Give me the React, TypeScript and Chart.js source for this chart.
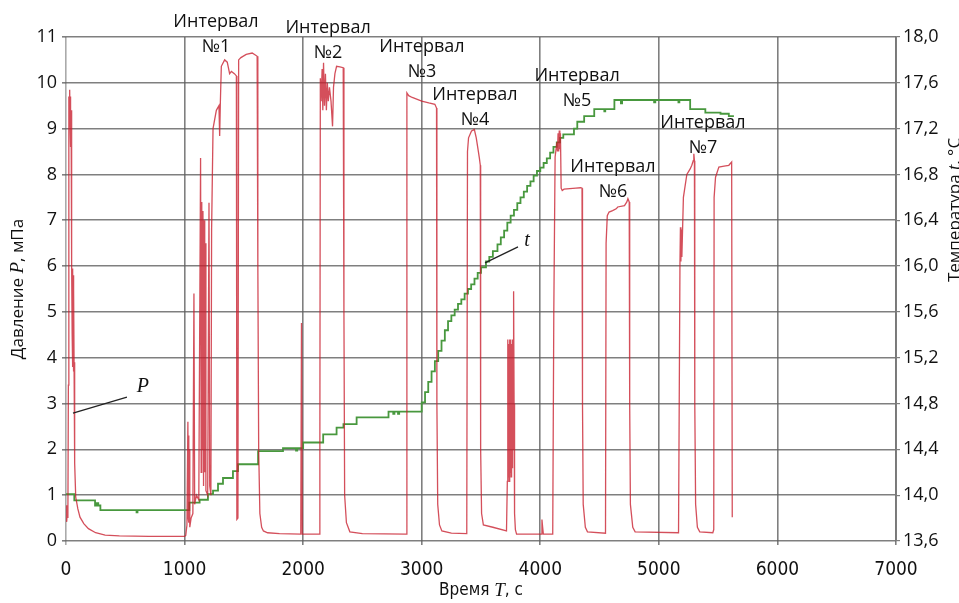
import React, { useEffect, useRef } from "react";
import { Chart, registerables } from "chart.js";

Chart.register(...registerables);

// ---- Pressure P (MPa) vs time T (s) ----
const P_TIME = [
  0, 4, 8, 12, 16, 20, 24, 28, 31, 34, 37, 40, 43, 46, 49, 52, 54, 56, 58, 60, 62, 64, 66, 68, 71, 75, 82, 100, 118, 150, 189, 250, 330, 450, 700, 1000,
  1010, 1020, 1028, 1031, 1034, 1037, 1040, 1044, 1055, 1070, 1079, 1085, 1100, 1120, 1135, 1140, 1145, 1150, 1155, 1160, 1165, 1170, 1175, 1180, 1195, 1206, 1212, 1222,
  1228, 1240, 1268, 1290, 1296, 1302, 1310, 1338, 1360, 1380, 1395, 1420, 1437, 1441, 1450, 1456, 1475, 1520, 1570, 1600, 1612, 1618, 1625, 1635, 1650, 1665, 1700, 1800,
  1980, 1986, 1992,
  2135, 2141, 2145, 2152, 2160, 2166, 2172, 2180, 2188, 2196, 2204, 2212, 2222, 2235, 2248, 2256, 2268, 2282, 2310, 2338, 2344, 2350, 2365, 2394, 2500,
  2868, 2875, 2890, 2920, 3000, 3060, 3111, 3125, 3128, 3135, 3150, 3170, 3250,
  3380, 3386, 3395, 3420, 3444, 3460, 3478, 3486, 3494, 3497, 3505, 3520, 3600,
  3715, 3722, 3726, 3730, 3734, 3738, 3742, 3746, 3750, 3754, 3758, 3762, 3766, 3770, 3775, 3779, 3783, 3790, 3800,
  4008, 4014, 4020, 4026,
  4105, 4114, 4125, 4140, 4145, 4150, 4155, 4160, 4165, 4170, 4176, 4185, 4200, 4300, 4341, 4352, 4356, 4362, 4380, 4398,
  4550, 4555, 4565, 4580, 4610, 4640, 4653, 4710, 4730, 4739, 4750, 4754, 4760, 4780, 4800,
  5166, 5178, 5182, 5186, 5190, 5194, 5207, 5236, 5264, 5278, 5290, 5295, 5300, 5303, 5310, 5325, 5345,
  5455, 5463, 5466, 5478, 5506, 5550, 5590, 5614, 5619,
];
const P_VALUES = [
  0.5, 0.78, 0.42, 0.72, 0.5, 3.4, 9.7, 9.3, 9.85, 9.2, 9.7, 8.6, 9.4, 7.9, 6.05, 4.5, 5.9, 3.8, 5.95, 4.2, 5.8, 3.7, 5.5, 3.9, 3.0, 1.7, 0.96, 0.7, 0.52, 0.38, 0.27, 0.18, 0.13, 0.11, 0.1, 0.1,
  0.12, 0.35, 2.6, 0.5, 2.3, 0.4, 2.0, 0.3, 0.5, 0.6, 5.4, 0.8, 1.0, 0.9, 8.36, 1.5, 7.4, 2.0, 7.2, 1.2, 7.0, 1.5, 6.5, 1.1, 1.0, 7.38, 1.2, 1.0,
  6.8, 9.0, 9.4, 9.5, 8.84, 9.6, 10.36, 10.5, 10.45, 10.2, 10.25, 10.2, 10.15, 0.47, 0.5, 10.5, 10.55, 10.62, 10.65, 10.6, 10.58, 6.0, 2.0, 0.6, 0.3, 0.22, 0.18, 0.16,
  0.15, 4.76, 0.15,
  0.15, 2.0, 10.1, 9.6, 10.3, 9.4, 10.44, 9.5, 10.2, 9.4, 10.0, 9.6, 9.9, 9.6, 9.05, 9.9, 10.2, 10.36, 10.35, 10.33, 5.0, 1.0, 0.4, 0.2, 0.16,
  0.15, 9.78, 9.72, 9.68, 9.6, 9.56, 9.53, 9.45, 3.0, 0.8, 0.35, 0.22, 0.17,
  0.16, 8.5, 8.8, 8.95, 8.98, 8.8, 8.5, 8.36, 8.2, 2.0, 0.6, 0.35, 0.3,
  0.22, 1.3, 4.4, 1.4, 4.3, 1.3, 4.4, 1.5, 4.4, 1.4, 4.3, 1.6, 4.4, 2.0, 5.45, 3.0, 0.6, 0.25, 0.15,
  0.15, 0.47, 0.3, 0.15,
  0.15, 5.0, 8.38, 8.7, 8.5, 8.9, 8.5, 8.96, 8.55, 8.9, 7.7, 7.65, 7.68, 7.7, 7.71, 7.7, 3.0, 0.8, 0.3, 0.2,
  0.17, 6.5, 7.1, 7.18, 7.21, 7.25, 7.29, 7.32, 7.4, 7.47, 7.4, 3.0, 0.8, 0.3, 0.2,
  0.18, 6.05, 6.85, 6.1, 6.8, 6.2, 7.5, 8.0, 8.12, 8.2, 8.3, 8.45, 8.3, 3.0, 0.8, 0.3, 0.2,
  0.18, 0.25, 7.5, 7.94, 8.16, 8.18, 8.2, 8.27, 0.52,
];

// ---- Temperature t (°C) vs time T (s), stepped ----
const T_TIME = [
  0, 70, 245, 258, 272, 290, 595, 603, 1040, 1127, 1197, 1240, 1282, 1324, 1408, 1451, 1620, 1830, 1940, 1950,
  2000, 2169, 2282, 2340, 2451, 2720, 2760, 2770, 2800, 2810,
  3000, 3028, 3055, 3083, 3111, 3139, 3167, 3195, 3222, 3250, 3278, 3306, 3334, 3362, 3390, 3417, 3445, 3472, 3500,
  3542, 3570, 3600, 3639, 3667, 3695, 3722, 3750, 3778, 3806, 3833, 3861, 3889, 3917, 3944, 3972, 4000, 4028, 4055,
  4083, 4111, 4139, 4167, 4194, 4284, 4312, 4370, 4455, 4540, 4548, 4625, 4680, 4690, 4960, 4970, 5165, 5173,
  5264, 5392, 5420, 5520, 5590, 5633,
];
const T_VALUES = [
  14.01, 13.955, 13.91, 13.93, 13.91, 13.87, 13.85, 13.87, 13.935, 13.96, 14.01, 14.04, 14.1, 14.15, 14.21, 14.27, 14.385, 14.41, 14.39, 14.41,
  14.46, 14.53, 14.59, 14.62, 14.68, 14.73, 14.71, 14.73, 14.71, 14.73,
  14.81, 14.9, 14.99, 15.08, 15.17, 15.26, 15.35, 15.44, 15.52, 15.57, 15.62, 15.67, 15.71, 15.76, 15.8, 15.84, 15.89, 15.94, 15.99,
  16.04, 16.08, 16.13, 16.19, 16.25, 16.31, 16.38, 16.44, 16.49, 16.55, 16.6, 16.65, 16.7, 16.74, 16.79, 16.83, 16.86, 16.9, 16.94,
  16.99, 17.04, 17.08, 17.12, 17.15, 17.2, 17.26, 17.31, 17.37, 17.35, 17.37, 17.45, 17.42, 17.45, 17.43, 17.45, 17.43, 17.45,
  17.37, 17.34, 17.34, 17.33, 17.31, 17.31,
];

// ---- Axis ticks ----
const LEFT_TICKS = [0, 1, 2, 3, 4, 5, 6, 7, 8, 9, 10, 11];
const RIGHT_TICKS = [13.6, 14.0, 14.4, 14.8, 15.2, 15.6, 16.0, 16.4, 16.8, 17.2, 17.6, 18.0];
const X_TICKS = [0, 1000, 2000, 3000, 4000, 5000, 6000, 7000];

// ---- Annotations (anchor in data units: time, P) ----
const INTERVAL_NUMBERS = [1, 2, 3, 4, 5, 6, 7];
const INTERVAL_LABEL_TIME = [1265, 2210, 3002, 3449, 4310, 4613, 5372];
const INTERVAL_LABEL_P = [11.33, 11.2, 10.79, 9.74, 10.15, 8.17, 9.13];

const SANS = '"Open Sans", "Noto Sans", sans-serif';
const NARROW = '"Liberation Sans Narrow", "DejaVu Sans Condensed", "Open Sans", sans-serif';
const SERIF_IT = 'italic 20px "Liberation Serif", "DejaVu Serif", serif';

type Part = { text: string; font: string };

function drawParts(ctx: CanvasRenderingContext2D, parts: Part[], cx: number, cy: number, rot: number) {
  ctx.save();
  ctx.translate(cx, cy);
  ctx.rotate(rot);
  let total = 0;
  const widths = parts.map((p) => {
    ctx.font = p.font;
    const w = ctx.measureText(p.text).width;
    total += w;
    return w;
  });
  let xx = -total / 2;
  ctx.textAlign = "left";
  ctx.textBaseline = "middle";
  parts.forEach((p, i) => {
    ctx.font = p.font;
    ctx.fillText(p.text, xx, 0);
    xx += widths[i];
  });
  ctx.restore();
}

const textPlugin = {
  id: "texts",
  afterDraw(chart: any) {
    const ctx: CanvasRenderingContext2D = chart.ctx;
    const xs = chart.scales.x;
    const ys = chart.scales.y;
    ctx.save();
    ctx.fillStyle = "#111";
    ctx.font = `18px ${SANS}`;
    ctx.textAlign = "center";
    ctx.textBaseline = "middle";
    INTERVAL_NUMBERS.forEach((n, i) => {
      const px = xs.getPixelForValue(INTERVAL_LABEL_TIME[i]);
      const py = ys.getPixelForValue(INTERVAL_LABEL_P[i]);
      ctx.fillText("Интервал", px, py);
      ctx.fillText("№" + n, px, py + 25);
    });

    // leader lines and series letters
    ctx.strokeStyle = "#222";
    ctx.lineWidth = 1.3;
    ctx.beginPath();
    ctx.moveTo(xs.getPixelForValue(59), ys.getPixelForValue(2.79));
    ctx.lineTo(xs.getPixelForValue(514), ys.getPixelForValue(3.14));
    ctx.moveTo(xs.getPixelForValue(3534), ys.getPixelForValue(6.07));
    ctx.lineTo(xs.getPixelForValue(3812), ys.getPixelForValue(6.42));
    ctx.stroke();
    ctx.font = SERIF_IT;
    ctx.fillText("P", xs.getPixelForValue(649), ys.getPixelForValue(3.36));
    ctx.fillText("t", xs.getPixelForValue(3888), ys.getPixelForValue(6.55));

    // axis titles
    const f = `17px ${SANS}`;
    const it = 'italic 19px "Liberation Serif", serif';
    drawParts(ctx, [{ text: "Давление ", font: f }, { text: "P", font: it }, { text: ", мПа", font: f }], 18, 289, -Math.PI / 2);
    drawParts(ctx, [{ text: "Время ", font: `17px ${NARROW}` }, { text: "T", font: it }, { text: ", с", font: `17px ${NARROW}` }], 481, 591, 0);
    drawParts(ctx, [{ text: "Температура ", font: f }, { text: "t", font: it }, { text: ", °С", font: f }], 955, 210, -Math.PI / 2);
    ctx.restore();
  },
};

const GRID = "rgba(95,95,95,0.8)";

export default function App() {
  const ref = useRef<HTMLCanvasElement | null>(null);
  useEffect(() => {
    if (!ref.current) return;
    const pData = P_TIME.map((t, i) => ({ x: t, y: P_VALUES[i] }));
    const tData = T_TIME.map((t, i) => ({ x: t, y: T_VALUES[i] }));
    const chart = new Chart(ref.current, {
      type: "line",
      data: {
        datasets: [
          {
            label: "P",
            data: pData,
            yAxisID: "y",
            borderColor: "rgba(200,30,45,0.78)",
            borderWidth: 1.3,
            pointRadius: 0,
            tension: 0,
          },
          {
            label: "t",
            data: tData,
            yAxisID: "y1",
            borderColor: "rgb(72,152,62)",
            borderWidth: 1.8,
            pointRadius: 0,
            stepped: true,
          },
        ],
      },
      options: {
        animation: false,
        responsive: false,
        layout: { padding: { top: 37, left: 0, right: 0, bottom: 0 } },
        plugins: { legend: { display: false }, tooltip: { enabled: false } },
        scales: {
          x: {
            type: "linear",
            min: 0,
            max: 7000,
            afterBuildTicks: (s: any) => {
              s.ticks = X_TICKS.map((v) => ({ value: v }));
            },
            afterFit: (s: any) => {
              s.height = 62;
            },
            ticks: {
              color: "#111",
              font: { family: NARROW, size: 19 },
              padding: 14,
              maxRotation: 0,
              autoSkip: false,
              callback: (v: any) => String(v),
            },
            grid: {
              color: (c: any) => (c.tick && c.tick.value === 0 ? "rgba(170,170,170,1)" : GRID),
              lineWidth: 1.6,
              tickLength: 4,
            },
            border: { display: false },
          },
          y: {
            position: "left",
            min: 0,
            max: 11,
            afterBuildTicks: (s: any) => {
              s.ticks = LEFT_TICKS.map((v) => ({ value: v }));
            },
            afterFit: (s: any) => {
              s.width = 66;
            },
            ticks: { color: "#111", font: { family: SANS, size: 18 }, padding: 5 },
            grid: { color: GRID, lineWidth: 1.6, tickLength: 4 },
            border: { display: false },
          },
          y1: {
            position: "right",
            min: 13.6,
            max: 18,
            afterBuildTicks: (s: any) => {
              s.ticks = RIGHT_TICKS.map((v) => ({ value: v }));
            },
            afterFit: (s: any) => {
              s.width = 63;
            },
            ticks: {
              color: "#111",
              font: { family: SANS, size: 18 },
              padding: 3,
              callback: (v: any) => Number(v).toFixed(1).replace(".", ","),
            },
            grid: { drawOnChartArea: false, color: GRID, lineWidth: 1.2, tickLength: 4 },
            border: { display: true, color: "rgba(120,120,120,0.9)", width: 2 },
          },
        },
      },
      plugins: [textPlugin],
    });
    return () => chart.destroy();
  }, []);
  return (
    <div style={{ position: "fixed", left: 0, top: 0, width: 959, height: 603, background: "#fff" }}>
      <canvas ref={ref} width={959} height={603} style={{ display: "block" }} />
    </div>
  );
}
